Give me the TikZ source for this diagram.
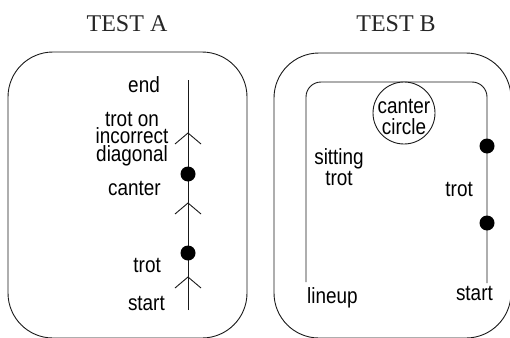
\documentclass[tikz,border=0pt]{standalone}
\usepackage{fontspec}
\setmainfont{Liberation Serif}
\setsansfont{Liberation Sans}[FakeStretch=0.86]
\usetikzlibrary{positioning}

\tikzset{
  lbl/.style={font=\sffamily\fontsize{22}{17.5}\selectfont, inner sep=0pt},
  ttl/.style={font=\fontsize{24}{26}\selectfont, inner sep=0pt, text=black!85},
  blob/.style={circle, fill=black, minimum size=15pt, inner sep=0pt},
  arena/.style={draw=black!90, line width=0.9pt, rounded corners=45pt},
  track/.style={draw=black!90, line width=0.9pt}
}

\begin{document}
\begin{tikzpicture}[x=1pt,y=-1pt]
\useasboundingbox (0,0) rectangle (510,337);

% titles
\node[ttl, anchor=base] (testA) at (127,31) {TEST A};
\node[ttl, anchor=base] (testB) at (396,31) {TEST B};

% test A
\draw[arena] (8,52) rectangle (247,338);
\coordinate (startA) at (188,310);
\coordinate (endA) at (188,80);
\draw[track] (startA) -- (endA);
\foreach \y in {133,203,277}
{
\draw[track] (175,{\y+11}) -- (188,\y) -- (201,{\y+11});
}
\node[blob] (canterA) at (188,174) {};
\node[blob] (trotA) at (188,253) {};
\node[lbl, anchor=base east] (endT) at (160,92) {end};
\node[lbl, align=center] (diagT) at (132,139) {trot on\\incorrect\\diagonal};
\node[lbl, anchor=base east] (canterT) at (161,195) {canter};
\node[lbl, anchor=base east] (trotAT) at (161,272) {trot};
\node[lbl, anchor=base east] (startAT) at (165,310) {start};

% test B
\draw[arena] (274,53) rectangle (511,338);
\coordinate (lineupB) at (306,282);
\coordinate (startB) at (487,283);
\draw[track, rounded corners=15pt] (lineupB) -- (306,82) -- (487,82) -- (startB);
\node[circle, track, fill=white, minimum size=62pt, inner sep=0pt] (circ) at (404,113) {};
\node[lbl, font=\sffamily\fontsize{22}{20.5}\selectfont, align=center] (circT) at (404,117) {canter\\circle};
\node[blob] (trot1) at (487,146) {};
\node[blob] (trot2) at (487,223) {};
\node[lbl, font=\sffamily\fontsize{22}{20.5}\selectfont, align=center] (sitT) at (339,167) {sitting\\trot};
\node[lbl, anchor=base east] (trotBT) at (473,196) {trot};
\node[lbl, anchor=base west] (lineupT) at (307,303) {lineup};
\node[lbl, anchor=base east] (startBT) at (493,300) {start};
\end{tikzpicture}
\end{document}
